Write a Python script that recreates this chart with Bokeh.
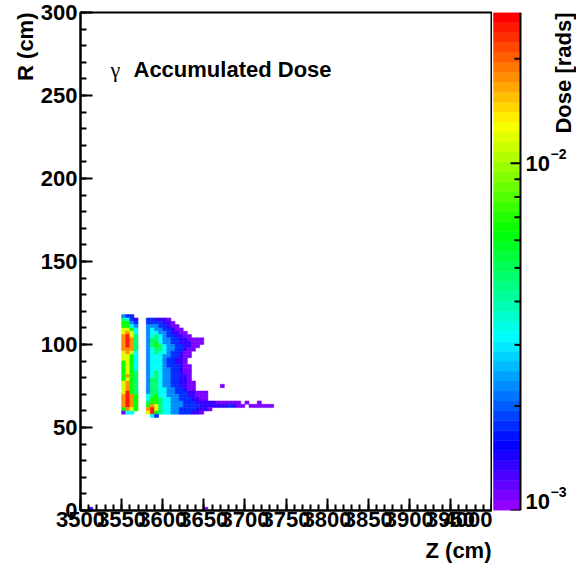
import math
import colorsys
from bokeh.plotting import figure
from bokeh.models import (FixedTicker, Label, Range1d, ColumnDataSource, Title)
from bokeh.core.properties import value
from bokeh.layouts import row
from bokeh.transform import log_cmap
from bokeh.embed import file_html
from bokeh.resources import INLINE

# ---------------- data ----------------
Z_MIN, Z_MAX = 3500, 4000
R_MIN, R_MAX = 0, 300
Z_BIN = 5.0
R_BIN = 2.0
DOSE_LOW = 1.0e-3
DOSE_HIGH = 2.72e-2
X_TICKS = list(range(3500, 4001, 50))
X_MINOR = list(range(3500, 4001, 10))
Y_TICKS = list(range(0, 301, 50))
Y_MINOR = list(range(0, 301, 10))
CB_TICKS = [1e-3, 1e-2]
CB_TICK_EXP = ["\u22123", "\u22122"]
CB_MINOR = [2e-3, 3e-3, 4e-3, 5e-3, 6e-3, 7e-3, 8e-3, 9e-3, 2e-2]

# colour code -> dose [rads]
DOSE_LEVELS = [1.07e-3, 1.35e-3, 1.70e-3, 2.29e-3, 3.25e-3,
               4.63e-3, 6.6e-3, 1.19e-2, 1.80e-2, 2.47e-2]

# left band: first Z bin, lower R edge of top row, rows top->bottom
BAND_Z0 = 3550
BAND_R_TOP = 116
BAND_ROWS = [
    "322.", "5421", "6632", "6643", "7764", "7874", "8975", "8985",
    "8985", "8985", "8885", "7874", "7764", "7764", "6764", "6764",
    "6764", "6765", "6865", "6765", "7865", "7865", "7865", "7965",
    "8986", "8986", "8986", "8986", "6876", "044.",
]

# right blob
BLOB_Z0 = 3580
BLOB_R_TOP = 114
BLOB_ROWS = [
    "221110",
    "2222110",
    "33322100",
    "343322100",
    "3443321100",
    "34543221100",
    "35543322110000",
    "35643322111000",
    "3565433221100",
    "345543322100",
    "34544322100",
    "34443322100",
    "3444322110",
    "3444322110",
    "34443222100",
    "34443322100",
    "34543322100",
    "34543322110",
    "35543322110",
    "355433221100",
    "355433221100......0",
    "355443322100",
    "355443322211000",
    "456443332211000",
    "466544332221100",
    "56654433322211111000000.0..0",
    "687544333222211111112100.000000",
    "8975443322221110",
    "79654433222110",
    ".42",
]

# isolated bins at R = 0
STRAY_Z = [3510, 3650]
STRAY_R = [0, 0]
STRAY_CODES = [1, 0]


def cells(z0, r_top, rows):
    zl, rl, dl = [], [], []
    for i, s in enumerate(rows):
        r = r_top - i * R_BIN
        for j, ch in enumerate(s):
            if ch != ".":
                zl.append(z0 + j * Z_BIN)
                rl.append(r)
                dl.append(DOSE_LEVELS[int(ch)])
    return zl, rl, dl


Z, R, D = [], [], []
for z0, rt, rows in ((BAND_Z0, BAND_R_TOP, BAND_ROWS), (BLOB_Z0, BLOB_R_TOP, BLOB_ROWS)):
    a, b, c = cells(z0, rt, rows)
    Z += a; R += b; D += c
for z, r, k in zip(STRAY_Z, STRAY_R, STRAY_CODES):
    Z.append(z); R.append(r); D.append(DOSE_LEVELS[k])

src = ColumnDataSource(dict(
    left=Z, right=[z + Z_BIN for z in Z],
    bottom=R, top=[r + R_BIN for r in R], dose=D))

# ROOT "pretty palette" (violet -> red, 50 colours)
def hls_hex(h):
    r, g, b = colorsys.hls_to_rgb(h / 360.0, 0.5, 1.0)
    return "#%02x%02x%02x" % (round(r * 255), round(g * 255), round(b * 255))

PALETTE = [hls_hex(280 - (i + 1) * 280 / 50) for i in range(49)] + [hls_hex(0)]

FONT = "Liberation Sans"
H = 572
FRAME_TOP = 12
FRAME_BOTTOM = 510

# ---------------- main plot ----------------
p = figure(width=492, height=H, x_range=Range1d(Z_MIN, Z_MAX),
           y_range=Range1d(R_MIN, R_MAX), output_backend="svg",
           toolbar_location=None, min_border_left=80, min_border_right=1,
           min_border_top=FRAME_TOP, min_border_bottom=H - FRAME_BOTTOM)
p.background_fill_color = "white"
p.border_fill_color = "white"
p.grid.visible = False
p.outline_line_color = "black"
p.outline_line_width = 2

cmap = log_cmap("dose", PALETTE, DOSE_LOW, DOSE_HIGH)
p.quad(left="left", right="right", bottom="bottom", top="top", source=src,
       fill_color=cmap, line_color=cmap, line_width=0.5)

p.xaxis.ticker = FixedTicker(ticks=X_TICKS, minor_ticks=X_MINOR)
p.yaxis.ticker = FixedTicker(ticks=Y_TICKS, minor_ticks=Y_MINOR)
for ax in (p.xaxis[0], p.yaxis[0]):
    ax.axis_line_width = 2
    ax.major_tick_out = 0
    ax.minor_tick_out = 0
    ax.major_tick_line_width = 2
    ax.minor_tick_line_width = 2
    ax.major_label_text_font = FONT
    ax.major_label_text_font_style = "bold"
    ax.major_label_text_font_size = "22px"
    ax.major_label_text_color = "black"
    ax.major_label_standoff = 3
p.xaxis.major_tick_in = 12
p.xaxis.minor_tick_in = 6
p.yaxis.major_tick_in = 12
p.yaxis.minor_tick_in = 6
p.xaxis.major_label_standoff = 1

p.add_layout(Label(x=30, y=441, x_units="screen", y_units="screen", text="γ",
                   text_font="Liberation Serif", text_font_size="22px",
                   text_color="black",
                   text_baseline="alphabetic", text_align="left"))
p.add_layout(Label(x=53, y=441, x_units="screen", y_units="screen",
                   text="Accumulated Dose", text_font=FONT, text_font_style="bold",
                   text_color="black",
                   text_font_size="22px", text_baseline="alphabetic", text_align="left"))
p.add_layout(Title(text="Z (cm)", align="right", text_font=FONT,
                   text_font_style="bold", text_font_size="22px",
                   text_color="black", standoff=13), "below")
p.add_layout(Title(text="R (cm)", align="right", text_font=FONT,
                   text_font_style="bold", text_font_size="22px",
                   text_color="black", standoff=0), "left")

# ---------------- colour bar (drawn in its own figure) ----------------
CB_W = 84
cb = figure(width=CB_W, height=H, x_range=Range1d(0, CB_W),
            y_range=Range1d(DOSE_LOW, DOSE_HIGH), y_axis_type="log",
            y_axis_location=None, x_axis_location=None,
            output_backend="svg", toolbar_location=None,
            min_border_left=0, min_border_right=0, min_border_top=FRAME_TOP,
            min_border_bottom=H - FRAME_BOTTOM)
cb.grid.visible = False
cb.outline_line_color = None
cb.background_fill_color = "white"
cb.border_fill_color = "white"

BAR_L, BAR_R = 1, 28
n = len(PALETTE)
edges = [DOSE_LOW * (DOSE_HIGH / DOSE_LOW) ** (k / n) for k in range(n + 1)]
cb.quad(left=BAR_L, right=BAR_R, bottom=edges[:-1], top=edges[1:], fill_color=PALETTE,
        line_color=PALETTE, line_width=0.5)
# axis line and ticks on the right of the bar
cb.segment(x0=[BAR_R], y0=[DOSE_LOW], x1=[BAR_R], y1=[DOSE_HIGH],
           line_color="black", line_width=2)
cb.segment(x0=[BAR_R - 10] * len(CB_TICKS), y0=CB_TICKS,
           x1=[BAR_R] * len(CB_TICKS), y1=CB_TICKS, line_color="black", line_width=2)
cb.segment(x0=[BAR_R - 6] * len(CB_MINOR), y0=CB_MINOR,
           x1=[BAR_R] * len(CB_MINOR), y1=CB_MINOR, line_color="black", line_width=2)
# tick labels 10^-3 (kept inside the drawing area) and 10^-2
lab_off = [-9, 0]
exp_off = [-19, -9]
cb.text(x=[BAR_R + 5] * len(CB_TICKS), y=CB_TICKS, text=["10"] * len(CB_TICKS),
        text_font=value(FONT), text_font_style="bold", text_font_size="22px",
        text_color="black", text_baseline="middle", text_align="left",
        y_offset=lab_off)
cb.text(x=[BAR_R + 30] * len(CB_TICKS), y=CB_TICKS, text=CB_TICK_EXP,
        text_font=value(FONT), text_font_style="bold", text_font_size="14px",
        text_color="black", text_baseline="middle", text_align="left",
        y_offset=exp_off)
cb.text(x=[58], y=[DOSE_HIGH], text=["Dose [rads]"],
        text_font=value(FONT), text_font_style="bold", text_font_size="22px",
        text_color="black", text_baseline="top", text_align="right",
        angle=math.pi / 2)

layout = row(p, cb)
open("out.html", "w").write(file_html(layout, INLINE))
